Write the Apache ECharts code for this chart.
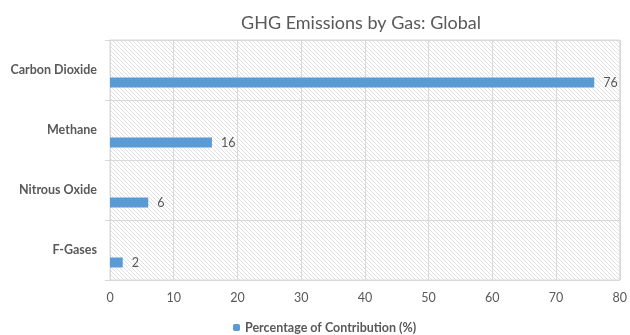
<!DOCTYPE html>
<html>
<head>
<meta charset="utf-8">
<script src="https://cdn.jsdelivr.net/npm/echarts@6/dist/echarts.min.js"></script>
<style>
  html, body { margin: 0; padding: 0; background: #fff; }
  #chart { width: 630px; height: 335px; }
</style>
</head>
<body>
<div id="chart"></div>
<script>
// Greenhouse gas shares of global emissions
const gases = ['Carbon Dioxide', 'Methane', 'Nitrous Oxide', 'F-Gases'];
const contribution = [76, 16, 6, 2];
const seriesName = 'Percentage of Contribution (%)';
const xTicks = { min: 0, max: 80, interval: 10 };

// Light diagonal hatch used as the plot-area fill
function hatchPattern() {
  const c = document.createElement('canvas');
  c.width = 4; c.height = 4;
  const ctx = c.getContext('2d');
  ctx.fillStyle = '#ffffff';
  ctx.fillRect(0, 0, 4, 4);
  ctx.strokeStyle = '#e0e0e0';
  ctx.lineWidth = 1;
  ctx.beginPath();
  ctx.moveTo(-1, -1); ctx.lineTo(5, 5);
  ctx.moveTo(-1, 3); ctx.lineTo(1, 5);
  ctx.moveTo(3, -1); ctx.lineTo(5, 1);
  ctx.stroke();
  return c;
}

const font = 'Lato, "Open Sans", sans-serif';
const chart = echarts.init(document.getElementById('chart'));
chart.setOption({
  animation: false,
  textStyle: { fontFamily: font },
  title: {
    text: 'GHG Emissions by Gas: Global',
    left: 236,
    top: 9,
    textStyle: { fontFamily: font, fontSize: 18, fontWeight: 'normal', color: '#595959' }
  },
  legend: {
    data: [seriesName],
    bottom: 1,
    left: 233,
    padding: 0,
    itemWidth: 7,
    itemHeight: 7,
    itemGap: 4,
    textStyle: { fontFamily: font, fontSize: 12.5, fontWeight: 'bold', color: '#595959' }
  },
  grid: {
    left: 110, right: 8, top: 40, bottom: 55,
    show: true,
    borderColor: '#d9d9d9',
    borderWidth: 1,
    backgroundColor: { image: hatchPattern(), repeat: 'repeat' }
  },
  xAxis: {
    type: 'value',
    min: xTicks.min, max: xTicks.max, interval: xTicks.interval,
    axisLine: { show: false },
    axisTick: { show: false },
    axisLabel: { color: '#595959', fontSize: 12.5, margin: 11, fontFamily: font },
    splitLine: { show: true, lineStyle: { color: '#d9d9d9', width: 1 } }
  },
  yAxis: {
    type: 'category',
    inverse: true,
    data: gases,
    axisLine: { show: true, lineStyle: { color: '#d9d9d9' } },
    axisTick: { show: true, length: 5, lineStyle: { color: '#d9d9d9' } },
    axisLabel: { color: '#595959', fontSize: 12.5, fontWeight: 'bold', margin: 13, fontFamily: font },
    splitLine: { show: true, lineStyle: { color: '#d9d9d9', width: 1 } }
  },
  series: [
    {
      // empty companion series: keeps the real bar in the lower part of each band
      name: 'spacer',
      type: 'bar',
      data: gases.map(() => '-'),
      barWidth: 10,
      barGap: '150%',
      silent: true,
      itemStyle: { color: 'transparent' }
    },
    {
      name: seriesName,
      type: 'bar',
      data: contribution,
      barWidth: 10,
      barGap: '150%',
      itemStyle: { color: '#5b9bd5' },
      label: {
        show: true,
        position: 'right',
        distance: 9,
        color: '#595959',
        fontSize: 12.5,
        fontFamily: font
      }
    }
  ]
});
</script>
</body>
</html>
